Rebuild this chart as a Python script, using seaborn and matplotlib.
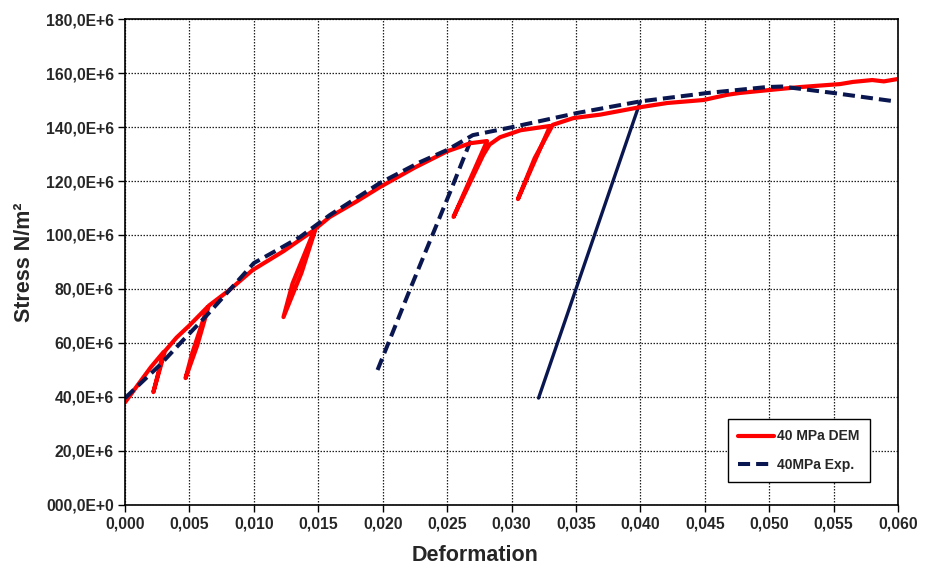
import matplotlib
matplotlib.use("Agg")
import matplotlib.pyplot as plt
from matplotlib.lines import Line2D
import pandas as pd
import seaborn as sns

# Simulated (DEM) stress-strain path, including the unload/reload loops
dem_strain = [0.0000, 0.0010, 0.0020, 0.0030, 0.0022, 0.0031, 0.0040, 0.0050,
              0.0064, 0.0052, 0.0047, 0.0056, 0.0065, 0.0081, 0.0099, 0.0123,
              0.0147, 0.0130, 0.0123, 0.0137, 0.0148, 0.0159, 0.0180, 0.0198,
              0.0225, 0.0250, 0.0268, 0.0281, 0.0255, 0.0278, 0.0283, 0.0291,
              0.0307, 0.0330, 0.0305, 0.0318, 0.0332, 0.0348, 0.0369, 0.0398,
              0.0421, 0.0449, 0.0467, 0.0477, 0.0500, 0.0524, 0.0555, 0.0565,
              0.0580, 0.0589, 0.0600]
dem_stress = [38.0, 44.5, 51.0, 56.7, 41.8, 57.0, 62.0, 66.5,
              73.3, 56.0, 47.0, 59.0, 73.8, 79.6, 87.0, 94.0,
              101.9, 82.0, 69.6, 86.0, 102.4, 106.7, 112.5, 117.8,
              125.0, 131.0, 134.0, 134.8, 106.7, 129.6, 133.5, 136.2,
              138.8, 140.4, 113.3, 128.5, 140.8, 143.3, 144.6, 147.2,
              148.9, 150.0, 151.9, 152.6, 153.7, 154.8, 155.9, 156.7,
              157.4, 156.9, 157.8]

# Experimental envelope
exp_strain = [0.0000, 0.0027, 0.0045, 0.0063, 0.0080, 0.0100, 0.0118, 0.0136,
              0.0159, 0.0198, 0.0229, 0.0250, 0.0270, 0.0301, 0.0351, 0.0400,
              0.0452, 0.0498, 0.0510, 0.0550, 0.0596]
exp_stress = [39.6, 51.8, 61.0, 70.0, 79.0, 89.6, 94.4, 99.3,
              107.4, 119.3, 127.0, 131.5, 137.0, 140.0, 145.2, 149.5,
              152.6, 154.8, 155.0, 152.6, 149.6]

# Experimental unloading branches
exp_unload_strain = [0.0196, 0.0221, 0.0252, 0.0270]
exp_unload_stress = [50.0, 79.6, 115.5, 137.0]
exp_unload2_strain = [0.0321, 0.0400]
exp_unload2_stress = [39.6, 149.5]

x_ticks = [i * 0.005 for i in range(13)]
x_labels = ["0,000", "0,005", "0,010", "0,015", "0,020", "0,025", "0,030",
            "0,035", "0,040", "0,045", "0,050", "0,055", "0,060"]
y_ticks = [0, 20, 40, 60, 80, 100, 120, 140, 160, 180]
y_labels = ["000,0E+0", "20,0E+6", "40,0E+6", "60,0E+6", "80,0E+6",
            "100,0E+6", "120,0E+6", "140,0E+6", "160,0E+6", "180,0E+6"]

RED = "#ff0000"
NAVY = "#0a1650"

sns.set_theme(style="white")
plt.rcParams["font.family"] = ["Liberation Sans", "DejaVu Sans"]
plt.rcParams["font.weight"] = "bold"

fig = plt.figure(figsize=(9.33, 5.68), dpi=100)
ax = fig.add_axes([0.134, 0.111, 0.8285, 0.8555])

dem = pd.DataFrame({"strain": dem_strain, "stress": dem_stress})
exp = pd.DataFrame({"strain": exp_strain, "stress": exp_stress})
unl = pd.DataFrame({"strain": exp_unload_strain, "stress": exp_unload_stress})
unl2 = pd.DataFrame({"strain": exp_unload2_strain, "stress": exp_unload2_stress})

dash = (0, (3.0, 1.5))
sns.lineplot(data=unl, x="strain", y="stress", sort=False, estimator=None,
             color=NAVY, lw=2.9, linestyle=dash, ax=ax)
sns.lineplot(data=unl2, x="strain", y="stress", sort=False, estimator=None,
             color=NAVY, lw=2.4, ax=ax)
sns.lineplot(data=dem, x="strain", y="stress", sort=False, estimator=None,
             color=RED, lw=3.0, ax=ax, solid_joinstyle="round")
sns.lineplot(data=exp, x="strain", y="stress", sort=False, estimator=None,
             color=NAVY, lw=2.9, linestyle=dash, ax=ax)

ax.set_xlim(0, 0.060)
ax.set_ylim(0, 180)
ax.set_xticks(x_ticks)
ax.set_xticklabels(x_labels)
ax.set_yticks(y_ticks)
ax.set_yticklabels(y_labels)
ax.tick_params(axis="both", which="major", direction="out", length=5, width=1,
               color="black", labelsize=11.3, pad=3, bottom=True, left=True)
for lab in ax.get_xticklabels() + ax.get_yticklabels():
    lab.set_fontweight("bold")

ax.grid(True, color="#222222", linestyle=(0, (1.2, 1.2)), linewidth=0.9)
ax.set_axisbelow(True)
for s in ax.spines.values():
    s.set_visible(True)
    s.set_color("black")
    s.set_linewidth(1.2)

ax.set_xlabel("Deformation", fontsize=15.5, fontweight="bold")
ax.set_ylabel("Stress N/m²", fontsize=15.5, fontweight="bold")
ax.xaxis.set_label_coords(0.453, -0.082)
ax.yaxis.set_label_coords(-0.117, 0.5)

handles = [Line2D([], [], color=RED, lw=3.0),
           Line2D([], [], color=NAVY, lw=2.9, linestyle=dash)]
leg = ax.legend(handles, ["40 MPa DEM", "40MPa Exp."], loc="lower left",
                bbox_to_anchor=(0.771, 0.032), fancybox=False, frameon=True,
                edgecolor="black", framealpha=1, handlelength=2.6,
                handletextpad=0.2, labelspacing=1.05, borderpad=0.75,
                prop={"weight": "bold", "size": 10})
leg.get_frame().set_linewidth(1.0)

fig.savefig("out.png", dpi=100)
